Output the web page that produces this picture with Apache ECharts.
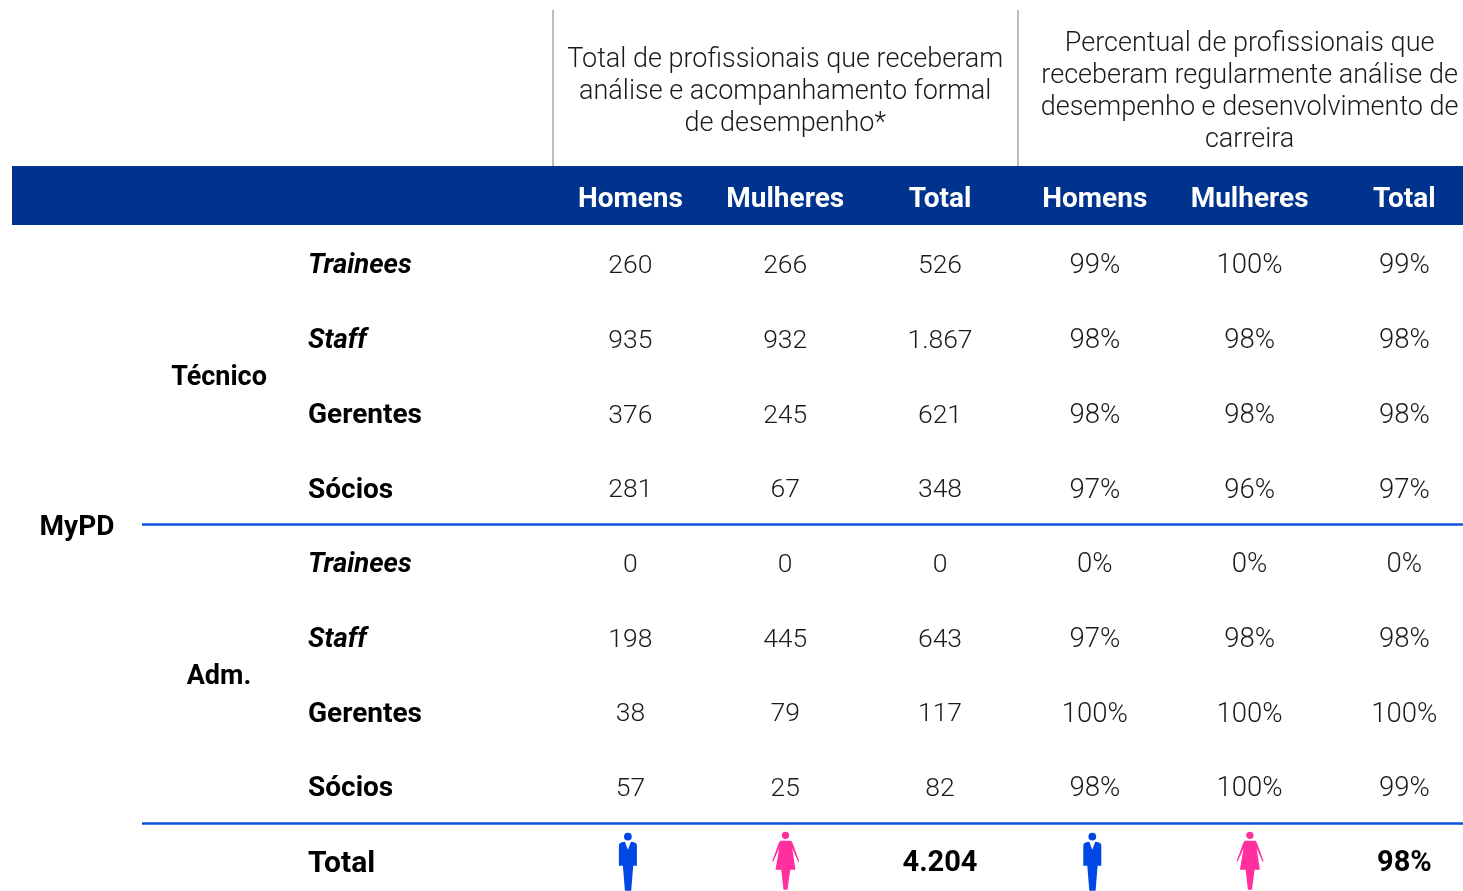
<!DOCTYPE html>
<html>
<head>
<meta charset="utf-8">
<title>MyPD</title>
<script src="https://cdn.jsdelivr.net/npm/echarts@6/dist/echarts.min.js"></script>
<style>
  html, body { margin: 0; padding: 0; background: #fff; }
  #main { width: 1463px; height: 891px; }
</style>
</head>
<body>
<div id="main"></div>
<script>
// dados da tabela
const titles = [
  "Total de profissionais que receberam\nanálise e acompanhamento formal\nde desempenho*",
  "Percentual de profissionais que\nreceberam regularmente análise de\ndesempenho e desenvolvimento de\ncarreira"
];
const columns = ["Homens", "Mulheres", "Total", "Homens ", "Mulheres ", "Total "];
const program = ["MyPD"];
const groups = ["Técnico", "Adm."];
const levels = ["Trainees", "Staff", "Gerentes", "Sócios", "Trainees ", "Staff ", "Gerentes ", "Sócios ", "Total"];
const italicLevels = ["Trainees", "Staff"];

const totalMen = [260, 935, 376, 281, 0, 198, 38, 57];
const totalWomen = [266, 932, 245, 67, 0, 445, 79, 25];
const totalAll = [526, 1867, 621, 348, 0, 643, 117, 82];
const pctMen = [99, 98, 98, 97, 0, 97, 100, 98];
const pctWomen = [100, 98, 98, 96, 0, 98, 100, 100];
const pctAll = [99, 98, 98, 97, 0, 98, 100, 99];
const grandTotal = 4204;
const grandPct = 98;

// ícones da linha Total
const manIcon = "path://M9 0A3.9 3.9 0 1 1 9 7.8A3.9 3.9 0 1 1 9 0ZM3 9.5L6 9L9 17L12 9L15 9.5Q18 10 18 13L18 33L14.3 33L12.3 58L6 58L4 33L0 33L0 13Q0 10 3 9.5Z";
const womanIcon = "path://M13.3 0A3.7 3.7 0 1 1 13.3 7.4A3.7 3.7 0 1 1 13.3 0ZM8 9L19 9L20.5 11.5L27 29.5L26 30L20 16.5L23.3 38L18 38L15.3 58L11.3 58L9 38L3.3 38L7 16.5L1 30L0 29.5L6.5 11.5Z";

const BLUE = "#00338D";
const LINE = "#0F50DE";
const TEXT = "#1a1a1a";
const BAND_W = 154.8;
const ROW_H = 74.7;
const ROWS_TOP = 225.7;
const TEXT_SHIFT = 3.5; // o texto fica um pouco abaixo do centro da linha
const fontFamily = "Roboto, sans-serif";

const fmt = (v) => v.toLocaleString("pt-BR");
const pct = (v) => v + "%";

// células numéricas: [coluna, linha, texto]
const countCells = [];
const pctCells = [];
[totalMen, totalWomen, totalAll].forEach((values, c) => {
  values.forEach((v, r) => countCells.push([columns[c], levels[r], fmt(v)]));
});
[pctMen, pctWomen, pctAll].forEach((values, c) => {
  values.forEach((v, r) => pctCells.push([columns[c + 3], levels[r], pct(v)]));
});

const hidden = { show: false };
const textOnly = { symbolSize: 0, silent: true, animation: false, itemStyle: { opacity: 1 } };
const loose = { outerBoundsMode: "none", containLabel: false };

const option = {
  animation: false,
  textStyle: { fontFamily },
  grid: [
    { ...loose, left: 12, top: 166, width: 1451, height: 59, show: true, backgroundColor: BLUE, borderWidth: 0 },
    { ...loose, left: 553, top: 10, width: BAND_W * 6, height: 156 },
    { ...loose, left: 12, top: ROWS_TOP + TEXT_SHIFT, width: 130, height: ROW_H * 8 },
    { ...loose, left: 142, top: ROWS_TOP + TEXT_SHIFT, width: 154, height: ROW_H * 8 },
    { ...loose, left: 142, top: ROWS_TOP + TEXT_SHIFT, width: 411, height: ROW_H * 9 },
    { ...loose, left: 553, top: ROWS_TOP + TEXT_SHIFT, width: BAND_W * 6, height: ROW_H * 9 },
    { ...loose, left: 142, top: ROWS_TOP, width: 1321, height: ROW_H * 8 }
  ],
  xAxis: [
    { gridIndex: 0, type: "category", data: [""], show: false },
    {
      gridIndex: 1, type: "category", data: titles,
      axisLine: hidden, axisTick: hidden, axisLabel: hidden,
      splitLine: { show: true, showMinLine: true, showMaxLine: false, lineStyle: { color: "#bdbdbd", width: 2 } }
    },
    { gridIndex: 2, type: "category", data: [""], show: false },
    { gridIndex: 3, type: "category", data: [""], show: false },
    { gridIndex: 4, type: "category", data: [""], show: false },
    {
      gridIndex: 5, type: "category", data: columns, position: "top",
      axisLine: hidden, axisTick: hidden,
      axisLabel: {
        margin: 29, interval: 0, color: "#fff", fontWeight: "bold", fontSize: 28, verticalAlign: "middle",
        fontFamily, formatter: (v) => v.trim()
      }
    },
    { gridIndex: 6, type: "category", data: [""], show: false }
  ],
  yAxis: [
    { gridIndex: 0, type: "category", data: [""], show: false },
    { gridIndex: 1, type: "category", data: [""], show: false },
    { gridIndex: 2, type: "category", data: program, show: false },
    { gridIndex: 3, type: "category", data: groups, inverse: true, show: false },
    {
      gridIndex: 4, type: "category", data: levels, inverse: true,
      axisLine: hidden, axisTick: hidden,
      axisLabel: {
        inside: true, margin: 166, interval: 0, align: "left",
        formatter: (v) => {
          const name = v.trim();
          if (name === "Total") return "{t|" + name + "}";
          return (italicLevels.includes(name) ? "{i|" : "{b|") + name + "}";
        },
        rich: {
          b: { fontSize: 28, fontWeight: "bold", color: "#000", fontFamily },
          i: { fontSize: 27.5, fontWeight: "bold", fontStyle: "italic", color: "#000", fontFamily },
          t: { fontSize: 30, fontWeight: "bold", color: "#000", fontFamily }
        }
      }
    },
    { gridIndex: 5, type: "category", data: levels, inverse: true, show: false },
    // linhas azuis: limites de Técnico / Adm.
    {
      gridIndex: 6, type: "category", data: groups, inverse: true,
      axisLine: hidden, axisTick: hidden, axisLabel: hidden,
      splitLine: { show: true, showMinLine: false, showMaxLine: true, lineStyle: { color: LINE, width: 2.5 } }
    }
  ],
  series: [
    {
      ...textOnly, type: "scatter", xAxisIndex: 1, yAxisIndex: 1,
      data: titles.map((t) => [t, ""]),
      label: {
        show: true, position: "inside", offset: [0, 4], formatter: (p) => p.value[0],
        fontSize: 27, fontWeight: 300, lineHeight: 32, color: TEXT, align: "center", verticalAlign: "middle", fontFamily
      }
    },
    {
      ...textOnly, type: "scatter", xAxisIndex: 2, yAxisIndex: 2,
      data: program.map((p) => ["", p]),
      label: {
        show: true, position: "inside", formatter: (p) => p.value[1],
        fontSize: 28, fontWeight: "bold", color: "#000", fontFamily
      }
    },
    {
      ...textOnly, type: "scatter", xAxisIndex: 3, yAxisIndex: 3,
      data: groups.map((g) => ["", g]),
      label: {
        show: true, position: "inside", formatter: (p) => p.value[1],
        fontSize: 27, fontWeight: "bold", color: "#000", fontFamily
      }
    },
    {
      ...textOnly, type: "scatter", xAxisIndex: 5, yAxisIndex: 5,
      data: countCells,
      label: {
        show: true, position: "inside", formatter: (p) => p.value[2],
        fontSize: 26.5, fontWeight: 300, color: TEXT, fontFamily
      }
    },
    {
      ...textOnly, type: "scatter", xAxisIndex: 5, yAxisIndex: 5,
      data: pctCells,
      label: {
        show: true, position: "inside", formatter: (p) => p.value[2],
        fontSize: 27.5, fontWeight: 300, color: TEXT, fontFamily
      }
    },
    {
      ...textOnly, type: "scatter", xAxisIndex: 5, yAxisIndex: 5,
      data: [[columns[2], "Total", fmt(grandTotal)], [columns[5], "Total", pct(grandPct)]],
      label: {
        show: true, position: "inside", formatter: (p) => p.value[2],
        fontSize: 29, fontWeight: "bold", color: "#000", fontFamily
      }
    },
    {
      type: "scatter", silent: true, xAxisIndex: 5, yAxisIndex: 5, clip: false,
      symbol: manIcon, symbolSize: [18, 58], symbolOffset: [-2.5, -2.5],
      itemStyle: { color: "#0048E6", opacity: 1 },
      data: [[columns[0], "Total"], [columns[3], "Total"]]
    },
    {
      type: "scatter", silent: true, xAxisIndex: 5, yAxisIndex: 5, clip: false,
      symbol: womanIcon, symbolSize: [27, 58], symbolOffset: [0.5, -3.5],
      itemStyle: { color: "#FF2F9E", opacity: 1 },
      data: [[columns[1], "Total"], [columns[4], "Total"]]
    }
  ]
};

const chart = echarts.init(document.getElementById("main"));
chart.setOption(option);
window.addEventListener("resize", () => chart.resize());
</script>
</body>
</html>
